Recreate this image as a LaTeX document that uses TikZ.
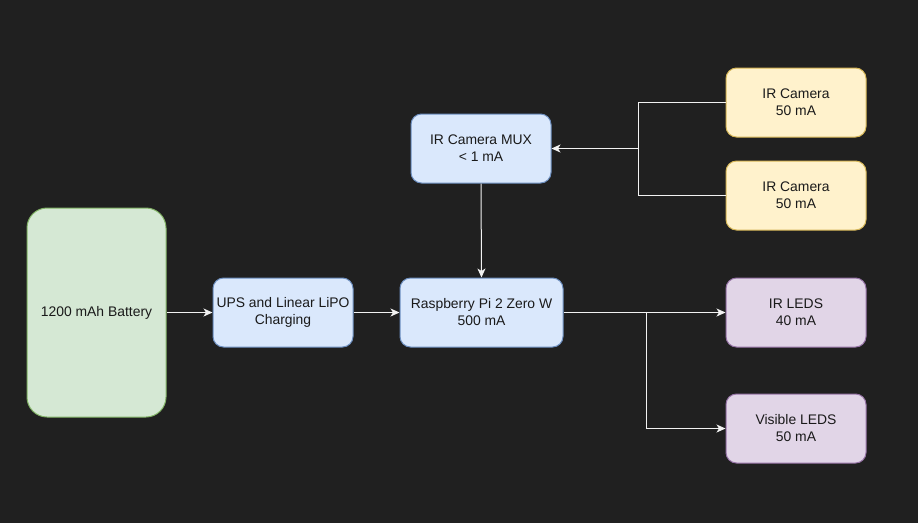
\documentclass[tikz,border=0pt]{standalone}
\usepackage{fontspec}
\setmainfont{Liberation Sans}
\usetikzlibrary{arrows.meta}
\definecolor{bg}{HTML}{202020}
\definecolor{gfill}{HTML}{D5E8D4}\definecolor{gline}{HTML}{82B366}
\definecolor{bfill}{HTML}{DAE8FC}\definecolor{bline}{HTML}{6C8EBF}
\definecolor{yfill}{HTML}{FFF2CC}\definecolor{yline}{HTML}{D6B656}
\definecolor{pfill}{HTML}{E1D5E7}\definecolor{pline}{HTML}{9673A6}
\definecolor{txt}{HTML}{1A1A1A}
\definecolor{wire}{HTML}{F2F2F2}
\tikzset{
  box/.style={draw, line width=1pt, rounded corners=10.5pt, align=center, inner sep=0pt,
    minimum width=140pt, minimum height=69pt, text=txt,
    font=\fontsize{13.9}{17}\selectfont},
  blue/.style={box, fill=bfill, draw=bline},
  yel/.style={box, fill=yfill, draw=yline},
  pur/.style={box, fill=pfill, draw=pline},
  wirestyle/.style={draw=wire, line width=1pt},
  arr/.style={wirestyle, -{Stealth[length=9pt,width=8pt,inset=2.5pt]}},
}
\begin{document}
\begin{tikzpicture}[x=1pt,y=-1pt]
\fill[bg] (0,0) rectangle (918,523);
\useasboundingbox (0,0) rectangle (918,523);
\node[box, fill=gfill, draw=gline, minimum width=139pt, minimum height=209pt, rounded corners=20pt] (bat) at (96.5,312.5) {1200 mAh Battery};
\node[blue] (ups) at (283,312.5) {UPS and Linear LiPO\\Charging};
\node[blue, minimum width=163pt] (rpi) at (481.5,312.5) {Raspberry Pi 2 Zero W\\500 mA};
\node[blue] (mux) at (481,148.5) {IR Camera MUX\\< 1 mA};
\node[yel] (cam1) at (796,102.5) {IR Camera\\50 mA};
\node[yel] (cam2) at (796,195.5) {IR Camera\\50 mA};
\node[pur] (irled) at (796,312.5) {IR LEDS\\40 mA};
\node[pur] (visled) at (796,428.5) {Visible LEDS\\50 mA};
\coordinate (jc) at (638,148.5);
\coordinate (jl) at (646,312.5);
\draw[arr] (bat.east) -- (ups.west);
\draw[arr] (ups.east) -- (rpi.west);
\draw[arr] (mux.south) -- (rpi.north);
\draw[arr] (cam1.west) -| (jc) -- (mux.east);
\draw[wirestyle] (cam2.west) -| (jc);
\draw[arr] (rpi.east) -- (irled.west);
\draw[arr] (jl) |- (visled.west);
\end{tikzpicture}
\end{document}
